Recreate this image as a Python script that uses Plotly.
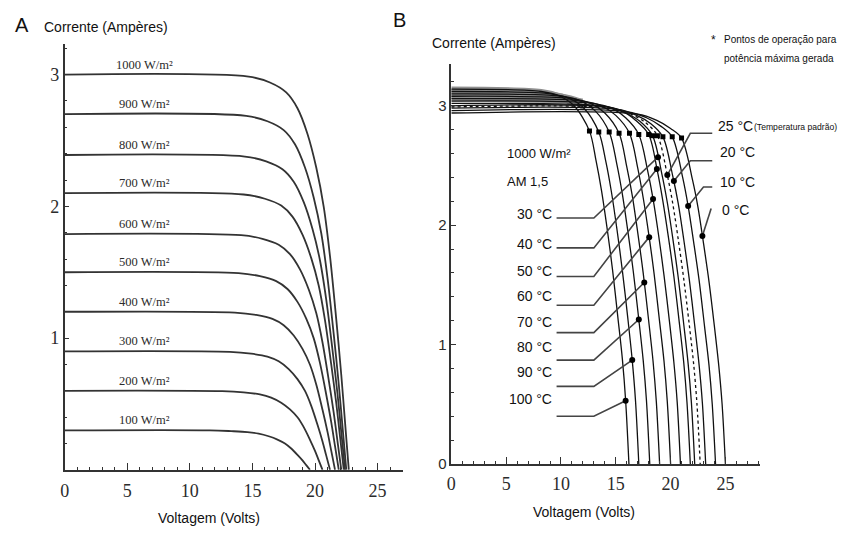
import plotly.graph_objects as go

W, H = 842, 535

# ---------------- Panel A : I-V curves for several irradiances ----------------
A_IRRADIANCE = [100, 200, 300, 400, 500, 600, 700, 800, 900, 1000]
A_VOLTS = [
    [0, 11.6, 13.3, 14.6, 15.5, 16.3, 17.0, 17.6, 18.1, 18.6, 19.0, 19.3, 19.6],
    [0, 12.6, 14.3, 15.6, 16.5, 17.3, 18.0, 18.6, 19.1, 19.6, 20.0, 20.3, 20.6],
    [0, 13.2, 14.9, 16.2, 17.1, 17.9, 18.6, 19.2, 19.7, 20.2, 20.6, 20.9, 21.2],
    [0, 13.6, 15.3, 16.6, 17.5, 18.3, 19.0, 19.6, 20.1, 20.6, 21.0, 21.3, 21.6],
    [0, 13.9, 15.6, 16.9, 17.8, 18.6, 19.3, 19.9, 20.4, 20.9, 21.3, 21.6, 21.9],
    [0, 14.1, 15.8, 17.1, 18.0, 18.8, 19.5, 20.1, 20.6, 21.1, 21.5, 21.8, 22.1],
    [0, 14.3, 16.0, 17.3, 18.2, 19.0, 19.7, 20.3, 20.8, 21.3, 21.7, 22.0, 22.3],
    [0, 14.4, 16.1, 17.4, 18.3, 19.1, 19.8, 20.4, 20.9, 21.4, 21.8, 22.1, 22.4],
    [0, 14.5, 16.2, 17.5, 18.4, 19.2, 19.9, 20.5, 21.0, 21.5, 21.9, 22.2, 22.5],
    [0, 14.7, 16.4, 17.7, 18.6, 19.4, 20.1, 20.7, 21.2, 21.7, 22.1, 22.4, 22.7],
]
A_AMPS = [
    [0.30, 0.30, 0.294, 0.287, 0.275, 0.255, 0.23, 0.20, 0.162, 0.114, 0.072, 0.036, 0],
    [0.60, 0.597, 0.588, 0.573, 0.549, 0.51, 0.459, 0.399, 0.324, 0.228, 0.144, 0.072, 0],
    [0.90, 0.896, 0.882, 0.86, 0.824, 0.765, 0.689, 0.599, 0.486, 0.342, 0.216, 0.108, 0],
    [1.20, 1.194, 1.176, 1.146, 1.098, 1.02, 0.918, 0.798, 0.648, 0.456, 0.288, 0.144, 0],
    [1.50, 1.493, 1.47, 1.433, 1.373, 1.275, 1.148, 0.998, 0.81, 0.57, 0.36, 0.18, 0],
    [1.79, 1.781, 1.754, 1.709, 1.638, 1.522, 1.369, 1.19, 0.967, 0.68, 0.43, 0.215, 0],
    [2.10, 2.09, 2.058, 2.006, 1.922, 1.785, 1.607, 1.397, 1.134, 0.798, 0.504, 0.252, 0],
    [2.39, 2.378, 2.342, 2.282, 2.187, 2.032, 1.828, 1.589, 1.291, 0.908, 0.574, 0.287, 0],
    [2.70, 2.687, 2.646, 2.579, 2.471, 2.295, 2.066, 1.796, 1.458, 1.026, 0.648, 0.324, 0],
    [3.00, 2.985, 2.94, 2.865, 2.745, 2.55, 2.295, 1.995, 1.62, 1.14, 0.72, 0.36, 0],
]
A_XTICKS = [0, 5, 10, 15, 20, 25]
A_YTICKS = [1, 2, 3]

# ---------------- Panel B : I-V curves for several temperatures ----------------
B_TEMPS = [100, 90, 80, 70, 60, 50, 40, 30, 25, 20, 10, 0]
B_VOLTS = [
    [0, 8.2, 9.9, 11.2, 12.6, 13.2, 13.7, 14.2, 14.7, 15.2, 15.6, 15.9, 16.2],
    [0, 9.1, 10.8, 12.1, 13.45, 14.1, 14.6, 15.1, 15.6, 16.1, 16.5, 16.8, 17.1],
    [0, 10.1, 11.8, 13.1, 14.4, 15.1, 15.6, 16.1, 16.6, 17.1, 17.5, 17.8, 18.1],
    [0, 11.0, 12.7, 14.0, 15.3, 16.0, 16.5, 17.0, 17.5, 18.0, 18.4, 18.7, 19.0],
    [0, 12.0, 13.7, 15.0, 16.25, 17.0, 17.5, 18.0, 18.5, 19.0, 19.4, 19.7, 20.0],
    [0, 12.9, 14.6, 15.9, 17.1, 17.9, 18.4, 18.9, 19.4, 19.9, 20.3, 20.6, 20.9],
    [0, 13.8, 15.5, 16.8, 18.0, 18.8, 19.3, 19.8, 20.3, 20.8, 21.2, 21.5, 21.8],
    [0, 14.2, 15.9, 17.2, 18.35, 19.2, 19.7, 20.2, 20.7, 21.2, 21.6, 21.9, 22.2],
    [0, 14.7, 16.4, 17.7, 18.8, 19.7, 20.2, 20.7, 21.2, 21.7, 22.1, 22.4, 22.7],
    [0, 15.2, 16.9, 18.2, 19.3, 20.2, 20.7, 21.2, 21.7, 22.2, 22.6, 22.9, 23.2],
    [0, 16.1, 17.8, 19.1, 20.15, 21.1, 21.6, 22.1, 22.6, 23.1, 23.5, 23.8, 24.1],
    [0, 17.0, 18.7, 20.0, 21.0, 22.0, 22.5, 23.0, 23.5, 24.0, 24.4, 24.7, 25.0],
]
B_AMPS = [
    [3.14, 3.12, 3.08, 3.00, 2.79, 2.54, 2.29, 1.98, 1.63, 1.22, 0.88, 0.53, 0],
    [3.12, 3.10, 3.06, 2.98, 2.78, 2.53, 2.28, 1.97, 1.62, 1.22, 0.87, 0.53, 0],
    [3.10, 3.08, 3.04, 2.96, 2.78, 2.51, 2.26, 1.95, 1.61, 1.21, 0.87, 0.53, 0],
    [3.08, 3.06, 3.02, 2.94, 2.77, 2.49, 2.25, 1.94, 1.60, 1.20, 0.86, 0.52, 0],
    [3.06, 3.04, 3.00, 2.92, 2.77, 2.48, 2.23, 1.93, 1.59, 1.19, 0.86, 0.52, 0],
    [3.04, 3.02, 2.98, 2.90, 2.76, 2.46, 2.22, 1.92, 1.58, 1.19, 0.85, 0.52, 0],
    [3.02, 3.00, 2.96, 2.88, 2.76, 2.45, 2.20, 1.90, 1.57, 1.18, 0.85, 0.51, 0],
    [3.00, 2.99, 2.94, 2.87, 2.75, 2.43, 2.19, 1.89, 1.56, 1.17, 0.84, 0.51, 0],
    [2.99, 2.98, 2.93, 2.86, 2.75, 2.42, 2.18, 1.88, 1.55, 1.17, 0.84, 0.51, 0],
    [2.98, 2.97, 2.92, 2.85, 2.74, 2.41, 2.18, 1.88, 1.55, 1.16, 0.83, 0.51, 0],
    [2.96, 2.95, 2.90, 2.83, 2.74, 2.40, 2.16, 1.86, 1.54, 1.15, 0.83, 0.50, 0],
    [2.94, 2.93, 2.88, 2.81, 2.73, 2.38, 2.15, 1.85, 1.53, 1.15, 0.82, 0.50, 0],
]
B_MPP_VOLTS = [12.6, 13.45, 14.4, 15.3, 16.25, 17.1, 18.0, 18.35, 18.8, 19.3, 20.15, 21.0]
B_MPP_AMPS = [2.79, 2.78, 2.78, 2.77, 2.77, 2.76, 2.76, 2.75, 2.75, 2.74, 2.74, 2.73]
B_MARK_VOLTS = [15.9, 16.5, 17.1, 17.6, 18.05, 18.4, 18.75, 18.85, 19.7, 20.3, 21.6, 22.9]
B_MARK_AMPS = [0.53, 0.87, 1.21, 1.52, 1.90, 2.22, 2.47, 2.57, 2.42, 2.37, 2.16, 1.91]
B_XTICKS = [0, 5, 10, 15, 20, 25]
B_YTICKS = [0, 1, 2, 3]
B_BAND_MAX_V = 12.5   # the overlapping flat parts form a grey band up to about here

def px(x):
    return x / W

def py(y):
    return 1 - y / H

LEFT_SEG_V = (9.6, 13.0)
LEFT_SEG_I = {100: 0.40, 90: 0.65, 80: 0.87, 70: 1.10, 60: 1.33, 50: 1.57, 40: 1.81, 30: 2.06}
LEFT_TXT_I = {100: 0.54, 90: 0.77, 80: 0.98, 70: 1.19, 60: 1.41, 50: 1.62, 40: 1.84, 30: 2.09}
RIGHT_SEG = {25: [(23.8, 2.77), (21.8, 2.77)], 20: [(23.8, 2.54), (21.8, 2.54)],
             10: [(23.8, 2.32), (23.0, 2.32)], 0: [(23.7, 2.14)]}
RIGHT_TXT = {25: (24.1, 2.83), 20: (24.3, 2.61), 10: (24.3, 2.36), 0: (24.5, 2.13)}

INK = "#2b2b2b"
SERIF = "Liberation Serif, Times New Roman, serif"
SANS = "Liberation Sans Narrow, Arial Narrow, Liberation Sans, sans-serif"
PLAIN = "Liberation Sans, Arial, sans-serif"

fig = go.Figure()

for g, v, a in zip(A_IRRADIANCE, A_VOLTS, A_AMPS):
    fig.add_trace(go.Scatter(x=v, y=a, mode="lines", xaxis="x", yaxis="y",
                             line=dict(color="#333333", width=1.8, shape="spline", smoothing=0.9),
                             hoverinfo="skip", showlegend=False))

# grey band under the overlapping flat parts of the temperature curves
for v, a in zip(B_VOLTS, B_AMPS):
    bv = [x for x in v if x <= B_BAND_MAX_V]
    ba = a[:len(bv)]
    fig.add_trace(go.Scatter(x=bv, y=ba, mode="lines", xaxis="x2", yaxis="y2",
                             line=dict(color="#8f8f8f", width=5, shape="spline", smoothing=0.9),
                             hoverinfo="skip", showlegend=False))

for t, v, a in zip(B_TEMPS, B_VOLTS, B_AMPS):
    fig.add_trace(go.Scatter(x=v, y=a, mode="lines", xaxis="x2", yaxis="y2",
                             line=dict(color="#111111", width=1.3, shape="spline", smoothing=0.9,
                                       dash="dot" if t == 25 else "solid"),
                             hoverinfo="skip", showlegend=False))

for i, t in enumerate(B_TEMPS):
    mv, ma = B_MARK_VOLTS[i], B_MARK_AMPS[i]
    if t in LEFT_SEG_I:
        xs = [LEFT_SEG_V[0], LEFT_SEG_V[1], mv]
        ys = [LEFT_SEG_I[t], LEFT_SEG_I[t], ma]
    else:
        pts = RIGHT_SEG[t]
        xs = [p[0] for p in pts] + [mv]
        ys = [p[1] for p in pts] + [ma]
    fig.add_trace(go.Scatter(x=xs, y=ys, mode="lines", xaxis="x2", yaxis="y2",
                             line=dict(color="#444444", width=1.6),
                             hoverinfo="skip", showlegend=False))

fig.add_trace(go.Scatter(x=B_MARK_VOLTS, y=B_MARK_AMPS, mode="markers", xaxis="x2", yaxis="y2",
                         marker=dict(color="#000", size=6), hoverinfo="skip", showlegend=False))
fig.add_trace(go.Scatter(x=B_MPP_VOLTS, y=B_MPP_AMPS, mode="markers", xaxis="x2", yaxis="y2",
                         marker=dict(color="#000", size=5, symbol="square"),
                         hoverinfo="skip", showlegend=False))

ann = []
for g, a in zip(A_IRRADIANCE, A_AMPS):
    ann.append(dict(x=6.35, y=a[0] + 0.075, xref="x", yref="y", text=f"{g} W/m²",
                    showarrow=False, font=dict(family=SERIF, size=12.5, color=INK)))
for t in LEFT_TXT_I:
    ann.append(dict(x=9.4, y=LEFT_TXT_I[t], xref="x2", yref="y2", text=f"{t} °C",
                    xanchor="right", yanchor="middle", showarrow=False,
                    font=dict(family=PLAIN, size=14, color="#111")))
for t, (xv, yv) in RIGHT_TXT.items():
    ann.append(dict(x=xv, y=yv, xref="x2", yref="y2", text=f"{t} °C",
                    xanchor="left", yanchor="middle", showarrow=False,
                    font=dict(family=PLAIN, size=14, color="#111")))
ann.append(dict(x=4.9, y=2.60, xref="x2", yref="y2", text="1000 W/m²", xanchor="left",
                yanchor="middle", showarrow=False, font=dict(family=PLAIN, size=13, color="#111")))
ann.append(dict(x=4.9, y=2.37, xref="x2", yref="y2", text="AM 1,5", xanchor="left",
                yanchor="middle", showarrow=False, font=dict(family=PLAIN, size=13, color="#111")))


def paper_text(x, y, text, size, family=SANS, xanchor="left"):
    ann.append(dict(x=px(x), y=py(y), xref="paper", yref="paper", text=text,
                    xanchor=xanchor, yanchor="middle", showarrow=False,
                    font=dict(family=family, size=size, color="#111")))


paper_text(751, 129, "(Temperatura padrão)", 8.6)
paper_text(713, 41, "*", 12, PLAIN, "center")
paper_text(721, 40, "Pontos de operação para", 10)
paper_text(721, 59, "potência máxima gerada", 10)
paper_text(8, 25, "A", 20, PLAIN)
paper_text(388, 20, "B", 20, PLAIN)
paper_text(37, 27, "Corrente (Ampères)", 14)
paper_text(428, 44, "Corrente (Ampères)", 14)
paper_text(205, 526, "Voltagem (Volts)", 14, SANS, "center")
paper_text(582, 520, "Voltagem (Volts)", 14, SANS, "center")

axis_common = dict(showgrid=False, zeroline=False, showline=True, linecolor="#333",
                   linewidth=1.6, ticks="inside", tickcolor="#333", tickwidth=1.2,
                   fixedrange=True)

fig.update_layout(
    width=W, height=H,
    margin=dict(l=0, r=0, t=0, b=0),
    paper_bgcolor="white", plot_bgcolor="white",
    showlegend=False,
    annotations=ann,
    xaxis=dict(domain=[px(60), px(400)], range=[0, 27], anchor="y",
               tickvals=A_XTICKS, ticklen=7, ticklabelstandoff=4,
               minor=dict(ticks="inside", dtick=1, ticklen=3, tickcolor="#333"),
               tickfont=dict(family=SERIF, size=18, color=INK), **axis_common),
    yaxis=dict(domain=[py(477), py(45)], range=[0, 3.23], anchor="x",
               tickvals=A_YTICKS, ticklen=5,
               minor=dict(ticks="inside", dtick=0.2, ticklen=3, tickcolor="#333"),
               tickfont=dict(family=SERIF, size=18, color=INK), **axis_common),
    xaxis2=dict(domain=[px(449), px(760)], range=[0, 28.2], anchor="y2",
                tickvals=B_XTICKS, ticklen=7, ticklabelstandoff=3,
                minor=dict(ticks="inside", dtick=1, ticklen=3, tickcolor="#333"),
                tickfont=dict(family=SERIF, size=18, color=INK), **axis_common),
    yaxis2=dict(domain=[py(471), py(65)], range=[0, 3.35], anchor="x2",
                tickvals=B_YTICKS, ticklen=5,
                minor=dict(ticks="inside", dtick=0.2, ticklen=3, tickcolor="#333"),
                tickfont=dict(family=PLAIN, size=15, color=INK), **axis_common),
)

fig.write_html(
    "out.html",
    config={"displayModeBar": False},
    post_script="document.documentElement.style.margin='0';document.body.style.margin='0';"
                "document.body.style.padding='0';document.body.style.overflow='hidden';",
)
